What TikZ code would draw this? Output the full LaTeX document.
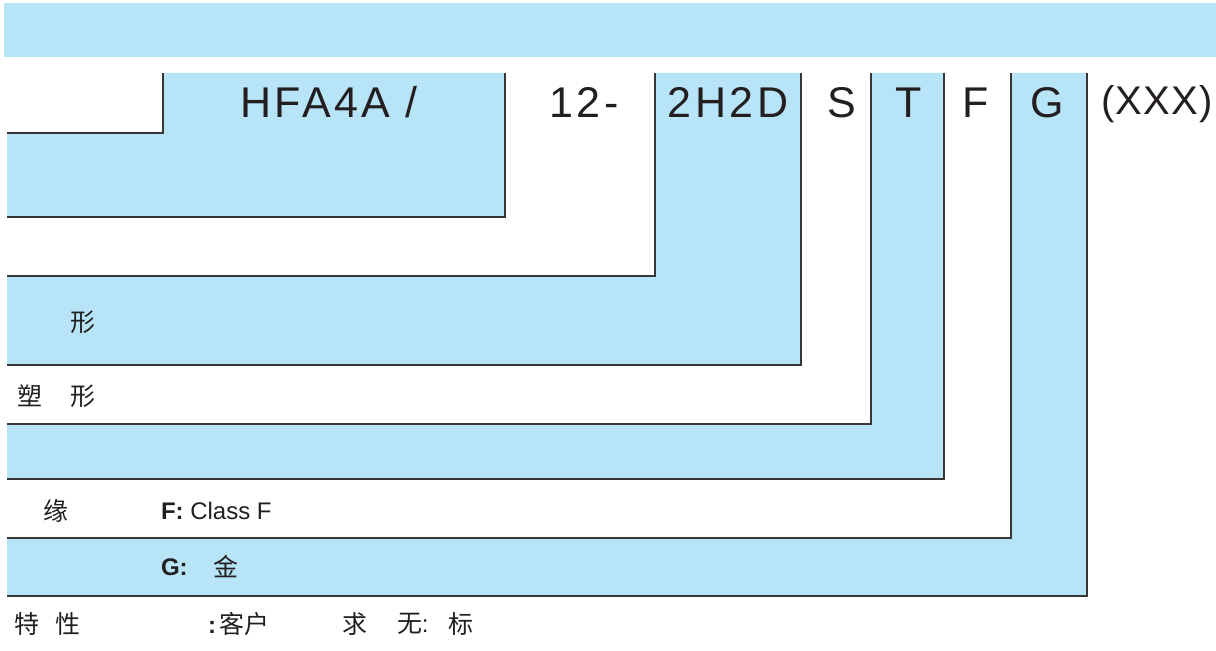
\documentclass[tikz,border=0pt]{standalone}
\usepackage{fontspec}
\setmainfont{Liberation Sans}
\newfontfamily\cjk[Scale=1.04]{Noto Sans CJK SC}
\usepackage{xcolor}
\usepackage{tikz}
\usetikzlibrary{positioning}
\definecolor{codeblue}{RGB}{184,228,248}
\definecolor{edgegray}{RGB}{55,55,55}
\definecolor{inkblack}{RGB}{35,31,32}

\begin{document}
\begin{tikzpicture}[x=0.5pt,y=-0.5pt,
  every node/.style={inner sep=0pt,outer sep=0pt,text=inkblack},
  codefont/.style={font=\fontsize{21.5}{26}\selectfont\addfontfeature{LetterSpace=8}},
  optfont/.style={font=\fontsize{20}{24}\selectfont\addfontfeature{LetterSpace=3}},
  rowfont/.style={font=\fontsize{12}{15}\selectfont},
  stepline/.style={draw=edgegray,line width=.6pt}]
\useasboundingbox (0,0) rectangle (1216,651);

\def\ytop{73}
\def\xleft{7}

% top banner
\fill[codeblue] (4,3) rectangle (1216,57);

% draw the blue L fields (column left / row top / column right / row bottom)
\def\bluefields{163/133/505/217, 655/276/801/365, 871/424/944/479, 1011/538/1087/596}
\foreach \xa/\ya/\xb/\yb in \bluefields
\fill[codeblue] (\xleft,\ya) -| (\xa,\ytop) -| (\xb,\yb) -- (\xleft,\yb) -- cycle;

% draw the steps
\def\steps{163/133, 505/217, 655/276, 801/365, 871/424, 944/479, 1011/538, 1087/596}
\foreach \x/\y in \steps
\draw[stepline] (\x,\ytop) |- (\xleft,\y);

% the type code
\foreach \x/\txt [count=\i] in {329/{HFA4A /}, 584/{12-}, 728/{2H2D}, 842/S, 909/T, 976/F, 1047/G}
\node[codefont,anchor=base] (code\i) at (\x,118) {\txt};
\node[optfont,anchor=base] (code8) at (1157,115) {(XXX)};

% row texts
\node[rowfont] (xing1) at (83,322) {\cjk 形};
\node[rowfont] (su) at (30,396) {\cjk 塑};
\node[rowfont] (xing2) at (83,396) {\cjk 形};
\node[rowfont] (yuan) at (56,511) {\cjk 缘};
\node[rowfont,anchor=west] (classF) at (161,511) {\textbf{F:} Class F};
\node[rowfont,anchor=west] (gcode) at (161,567) {\textbf{G:}};
\node[rowfont] (jin) at (226,567) {\cjk 金};
\node[rowfont] (te) at (27,624) {\cjk 特};
\node[rowfont] (xing3) at (68,624) {\cjk 性};
\node[rowfont,anchor=west] (custom) at (208,624) {\textbf{:}\,{\cjk 客户}};
\node[rowfont] (qiu) at (355,624) {\cjk 求};
\node[rowfont,anchor=west] (wu) at (397,624) {{\cjk 无}:};
\node[rowfont,anchor=west] (biao) at (448,624) {\cjk 标};
\end{tikzpicture}
\end{document}
